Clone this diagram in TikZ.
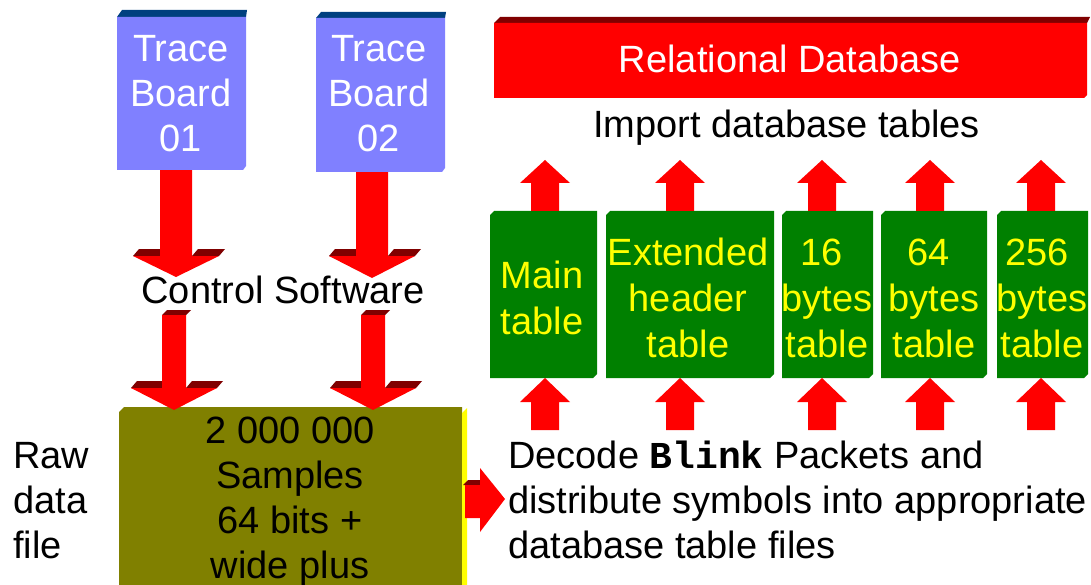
\documentclass[tikz,border=0pt]{standalone}
\usepackage{fontspec}
\setmainfont{Liberation Sans}
\setmonofont{Liberation Mono}
\definecolor{boardblue}{HTML}{8080FF}
\definecolor{navyc}{HTML}{004080}
\definecolor{redc}{HTML}{FF0000}
\definecolor{darkredc}{HTML}{800000}
\definecolor{greenc}{HTML}{008000}
\definecolor{olivec}{HTML}{808000}
\definecolor{yellowc}{HTML}{FFFF00}
\newcommand\ctrlines[1]{\vtop{\halign{\hfil##\hfil\cr#1\crcr}}}
\newcommand\leftlines[1]{\vtop{\halign{##\hfil\cr#1\crcr}}}
% down block arrow: centre x, shaft half width, head half width, top y, shoulder y, tip y
\newcommand\downblk[6]{%
  \fill[darkredc] (#1-#3,#5) -- (#1-#2,#5) -- (#1-#2+6,#5-7) -- (#1-#3+6,#5-7) -- cycle;
  \fill[darkredc] (#1+#2,#5) -- (#1+#3,#5) -- (#1+#3+6,#5-7) -- (#1+#2+6,#5-7) -- cycle;
  \fill[redc] (#1-#2,#4) -- (#1+#2,#4) -- (#1+#2,#5) -- (#1+#3,#5) -- (#1,#6) -- (#1-#3,#5) -- (#1-#2,#5) -- cycle;}
% up block arrow: centre x, tip y, head base y, shaft end y
\newcommand\upblk[4]{%
  \fill[redc] (#1,#2) -- (#1+25,#3) -- (#1+14,#3) -- (#1+14,#4) -- (#1-14,#4) -- (#1-14,#3) -- (#1-25,#3) -- cycle;}
\begin{document}
\begin{tikzpicture}[x=1pt,y=-1pt,
  txt/.style={inner sep=0pt, font=\fontsize{38}{45}\selectfont, anchor=base},
  gtxt/.style={inner sep=0pt, font=\fontsize{38}{46}\selectfont, anchor=base, text=yellowc}]
\useasboundingbox (0,0) rectangle (1091,585);
\clip (0,0) rectangle (1091,585);
\fill[white] (0,0) rectangle (1091,585);

% down arrows from trace boards
\downblk{176}{16}{43}{165}{256}{277}
\downblk{372}{16}{43}{165}{256}{278}
% caps of lower down arrows
\fill[darkredc] (174-12,315) -- (174+12,315) -- (174+12+5,310) -- (174-12+5,310) -- cycle;
\fill[darkredc] (373-12,315) -- (373+12,315) -- (373+12+5,310) -- (373-12+5,310) -- cycle;

% trace boards
\fill[navyc] (117,17) -- (122,10) -- (247,10) -- (246,17) -- cycle;
\fill[boardblue] (117,17) -- (246,17) -- (246,166) -- (243,170) -- (117,170) -- cycle;
\fill[navyc] (316,18) -- (321,12) -- (446,12) -- (445,18) -- cycle;
\fill[boardblue] (316,18) -- (445,18) -- (445,168) -- (442,172) -- (316,172) -- cycle;

% raw data file box
\fill[olivec] (119,412) -- (124,407) -- (462,407) -- (462,590) -- (119,590) -- cycle;
\fill[yellowc] (462,413) -- (467,408) -- (467,590) -- (462,590) -- cycle;
\downblk{174}{12}{43}{315}{388}{410}
\downblk{373}{12}{43}{315}{388}{410}

% arrow to decode text
\fill[darkredc] (463,485) -- (468,480) -- (480,480) -- (480,485) -- cycle;
\fill[redc] (465,485) -- (480,485) -- (480,468) -- (505,499) -- (480,532) -- (480,518) -- (465,518) -- cycle;

% relational database
\fill[darkredc] (494,23) -- (500,17) -- (1090,17) -- (1087,23) -- cycle;
\fill[redc] (494,23) -- (1087,23) -- (1087,95) -- (1084,98) -- (494,98) -- cycle;

% green table boxes
\foreach \l/\r in {490/597, 606/774, 782/873, 881/987, 997/1088}{
  \fill[greenc] (\l+4,211) -- (\r,211) -- (\r,374) -- (\r-4,378) -- (\l,378) -- (\l,215) -- cycle;}
% up arrows
\foreach \m in {545,680,822,930,1041}{
  \upblk{\m}{160}{183}{211}
  \upblk{\m}{378}{402}{430}}

% texts
\node[txt, text=white] (tb1) at (181,62) {\ctrlines{Trace\cr Board\cr 01}};
\node[txt, text=white] (tb2) at (379,62) {\ctrlines{Trace\cr Board\cr 02}};
\node[txt] (cs) at (283,303) {Control Software};
\node[txt, anchor=base west] (raw) at (13,468) {\leftlines{Raw\cr data\cr file}};
\node[txt] (samples) at (290,443) {\ctrlines{2 000 000\cr Samples\cr 64 bits +\cr wide plus}};
\node[txt, text=white] (rdb) at (790,73) {Relational Database};
\node[txt, anchor=base west] (imp) at (593,138) {Import database tables};
\node[gtxt] (t1) at (542,288) {\ctrlines{Main\cr table}};
\node[gtxt] (t2) at (688,265) {\ctrlines{Extended\cr header\cr table}};
\node[gtxt] (t3) at (827,265) {\ctrlines{16\ \cr bytes\cr table}};
\node[gtxt] (t4) at (934,265) {\ctrlines{64\ \cr bytes\cr table}};
\node[gtxt] (t5) at (1042,265) {\ctrlines{256\ \cr bytes\cr table}};
\node[txt, anchor=base west] (dec) at (508,468) {\leftlines{Decode {\ttfamily\bfseries Blink} Packets and\cr distribute symbols into appropriate\cr database table files}};
\end{tikzpicture}
\end{document}
